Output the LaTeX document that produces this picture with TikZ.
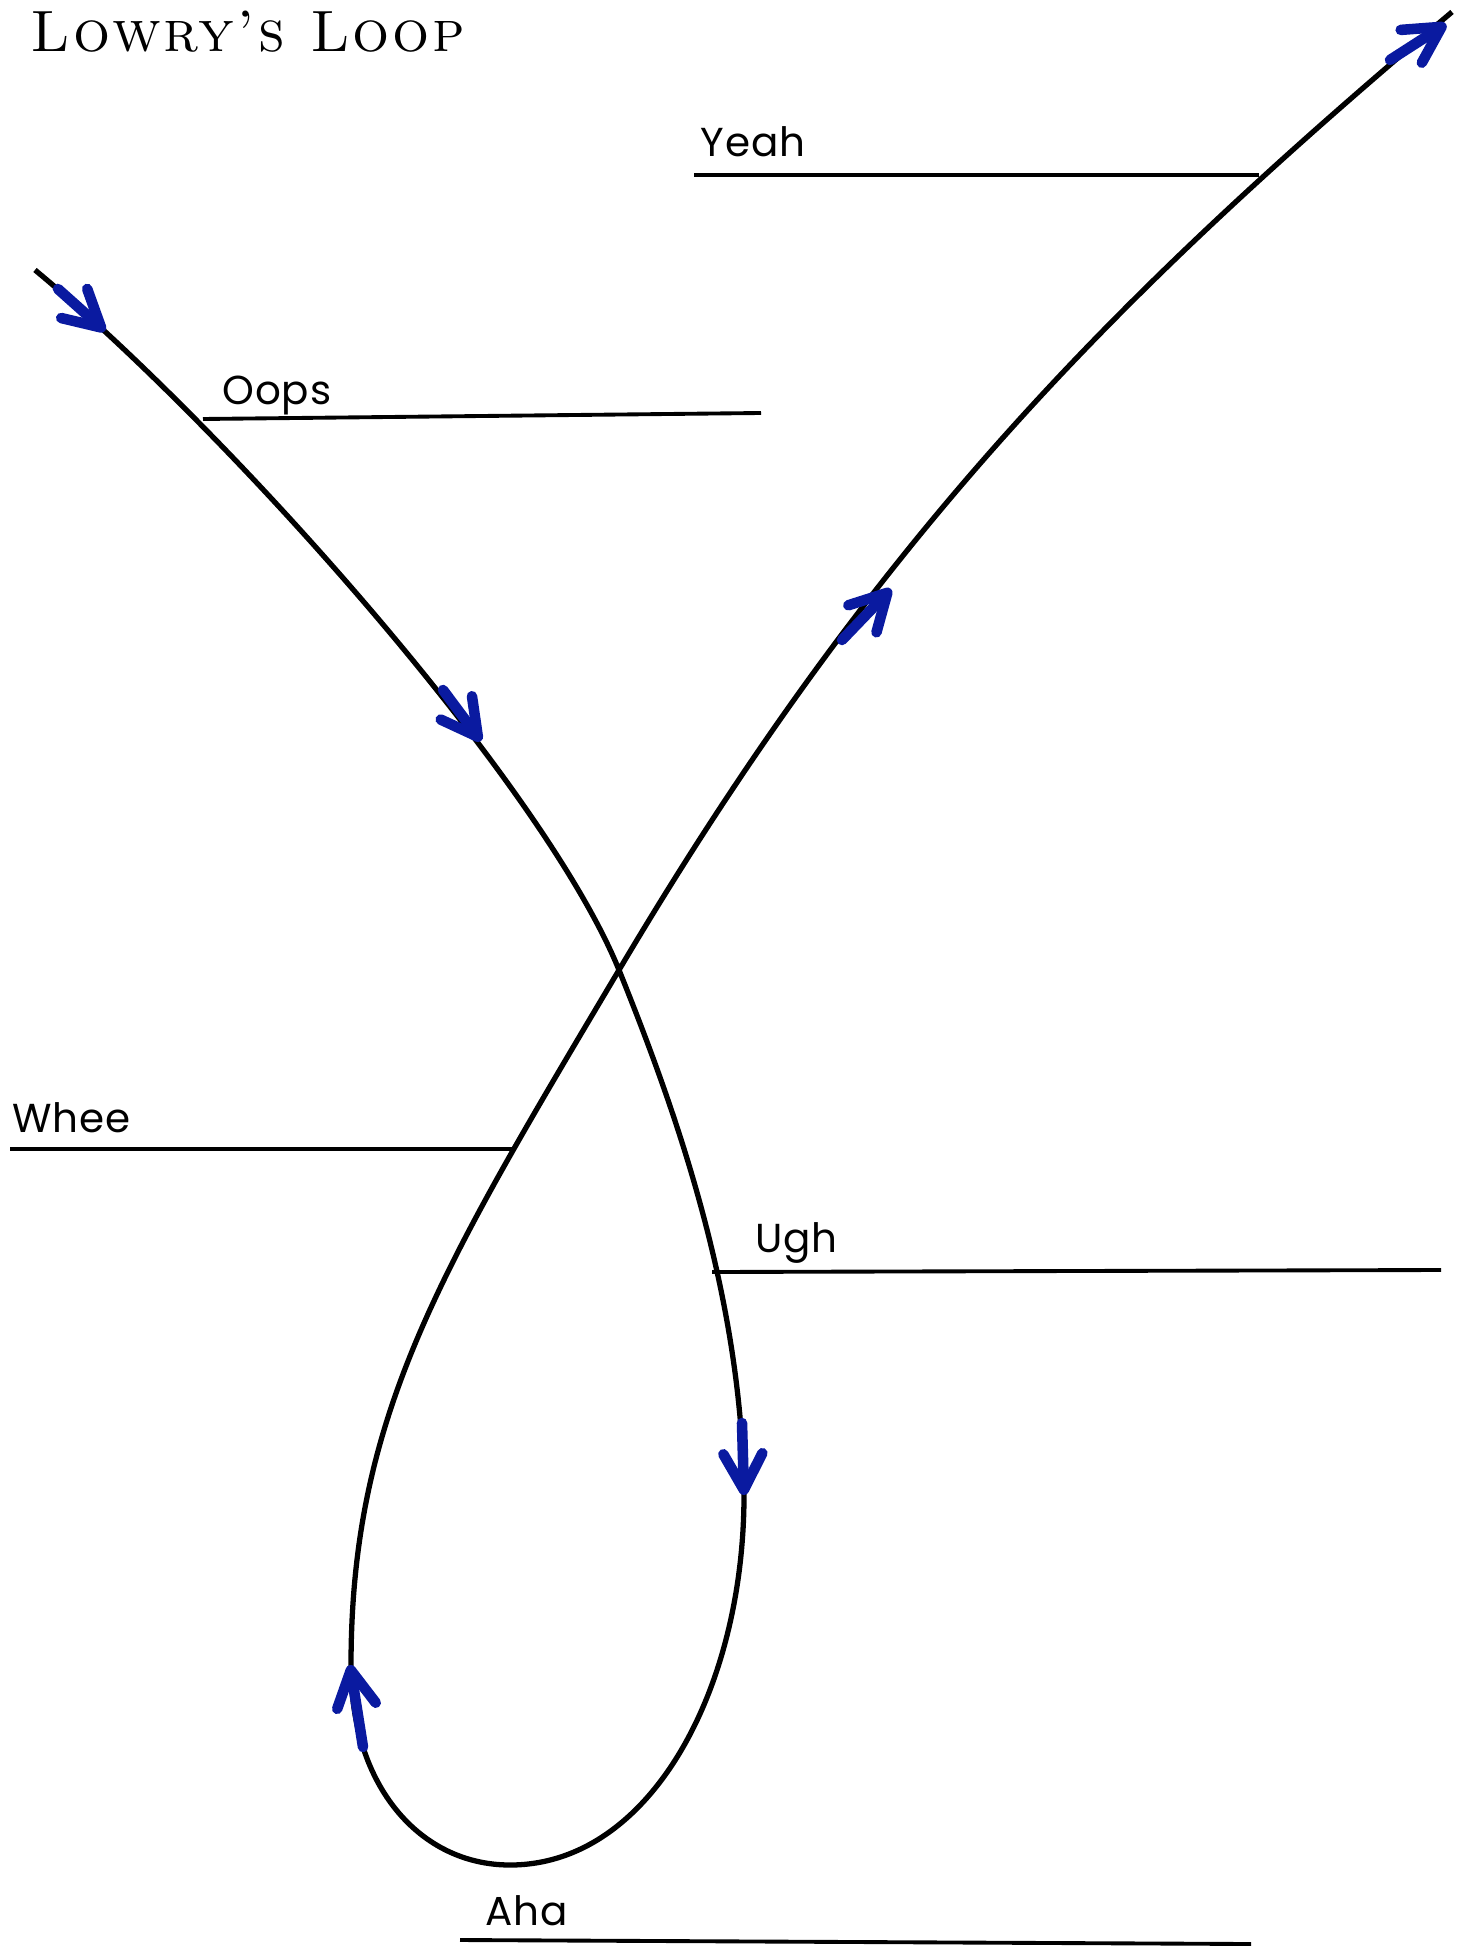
\documentclass[tikz,border=0pt]{standalone}
\usepackage{fontspec}
\usepackage{tikz}
\usetikzlibrary{arrows.meta}
\newfontfamily\tagfont[LetterSpace=2]{Poppins}
\newfontfamily\titlefont[LetterSpace=5]{lmromancaps10-regular.otf}
\definecolor{loopblue}{HTML}{0A1AA0}
\tikzset{
  loopline/.style={draw=black,line width=1.5pt},
  level/.style={draw=black,line width=1.1pt},
  tag/.style={anchor=base west,inner sep=0pt,font=\tagfont\fontsize{11.5}{14}\selectfont},
  dirarrow/.style={draw=loopblue,line width=3pt,line cap=round,
    -{Straight Barb[length=3.6mm,width=3.9mm,round]}}
}

\begin{document}
\begin{tikzpicture}[x=0.01cm,y=-0.01cm]
  \useasboundingbox (0,0) rectangle (1457,1949);
  \node[anchor=base west,inner sep=0pt,font=\titlefont\fontsize{16.6}{18}\selectfont]
    (title) at (30,52) {Lowry’s Loop};

  % the loop, in the order it is travelled
  \coordinate (start) at (35,270);
  \coordinate (cross) at (619,970);
  \coordinate (right) at (744,1495);
  \coordinate (bottom) at (510,1865);
  \coordinate (left) at (351,1666);
  \coordinate (finish) at (1452,12);
  \draw[loopline] (start) .. controls (228,430) and (544,785) .. (cross)
    .. controls (675,1109) and (742,1295) .. (right)
    .. controls (744,1690) and (650,1865) .. (bottom)
    .. controls (420,1865) and (351,1786) .. (left)
    .. controls (351,1416) and (440,1271) .. (cross)
    .. controls (874,540) and (1110,300) .. (finish);

  % levels
  \coordinate (yeahA) at (694,175);  \coordinate (yeahB) at (1259,175);
  \coordinate (oopsA) at (203,419);  \coordinate (oopsB) at (761,413);
  \coordinate (wheeA) at (10,1149);  \coordinate (wheeB) at (512,1149);
  \coordinate (ughA) at (712,1272);  \coordinate (ughB) at (1441,1270);
  \coordinate (ahaA) at (460,1940);  \coordinate (ahaB) at (1251,1944);
  \draw[level] (yeahA) -- (yeahB);
  \draw[level] (oopsA) -- (oopsB);
  \draw[level] (wheeA) -- (wheeB);
  \draw[level] (ughA) -- (ughB);
  \draw[level] (ahaA) -- (ahaB);

  \node[tag] (yeah) at (700,157) {Yeah};
  \node[tag] (oops) at (222,405) {Oops};
  \node[tag] (whee) at (12,1132) {Whee};
  \node[tag] (ugh) at (755,1252) {Ugh};
  \node[tag] (aha) at (485,1925) {Aha};

  % direction marks
  \draw[dirarrow] (58,289) -- (105,331);
  \draw[dirarrow] (443,690) -- (481,741);
  \draw[dirarrow] (842,640) -- (891,589);
  \draw[dirarrow] (742,1423) -- (744,1495);
  \draw[dirarrow] (363,1747) -- (350,1665);
  \draw[dirarrow] (1390,60) -- (1446,24);
\end{tikzpicture}
\end{document}
